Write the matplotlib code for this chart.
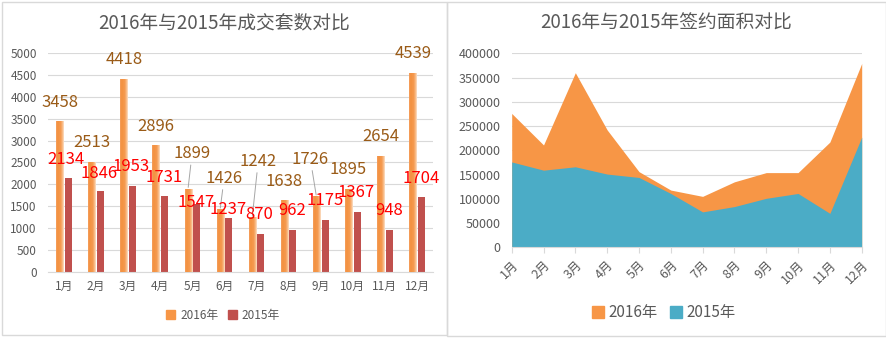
import numpy as np
import matplotlib
matplotlib.use("Agg")
import matplotlib.pyplot as plt
from matplotlib.patches import Rectangle
from matplotlib.colors import LinearSegmentedColormap

plt.rcParams['font.family'] = ['Noto Sans CJK SC', 'DejaVu Sans']

months = ['1月', '2月', '3月', '4月', '5月', '6月', '7月', '8月', '9月', '10月', '11月', '12月']
deals_2016 = [3458, 2513, 4418, 2896, 1899, 1426, 1242, 1638, 1726, 1895, 2654, 4539]
deals_2015 = [2134, 1846, 1953, 1731, 1547, 1237, 870, 962, 1175, 1367, 948, 1704]
area_2016 = [276000, 211000, 360000, 242000, 156000, 118000, 105000, 135000, 154000, 154000, 217000, 379000]
area_2015 = [176000, 159000, 166000, 151000, 144000, 111000, 73000, 84000, 101000, 111000, 70000, 227000]
series_names = ['2016年', '2015年']
left_title = '2016年与2015年成交套数对比'
right_title = '2016年与2015年签约面积对比'

# label offsets (pixels) relative to bar tops
off16 = [(0, 18), (0, 19), (0, 19), (0, 19), (4, 35), (4, 31), (6, 56), (0, 19), (-6, 37), (0, 19), (0, 19), (0, 20)]
off15 = [(-2, 19), (-1, 18), (-1, 20), (0, 19), (-1, 2), (-1, 8), (-2, 19), (-1, 19), (0, 20), (-1, 19), (0, 20), (0, 19)]
leader16 = [False, False, False, False, True, True, True, False, True, False, False, False]

W, H = 887, 338
fig = plt.figure(figsize=(W / 100, H / 100), dpi=100)

def fx(p):
    return p / W

def fy(p):
    return 1 - p / H

# panel borders
for (x0, y0, x1, y1) in [(2, 2, 447, 335), (447, 2, 886, 336)]:
    fig.add_artist(Rectangle((fx(x0), fy(y1)), fx(x1 - x0), (y1 - y0) / H,
                             transform=fig.transFigure, fill=False, ec='#D9D9D9', lw=1))

text_gray = '#595959'
grid_c = '#D9D9D9'
orange = '#F79646'
red = '#C0504D'
teal = '#4BACC6'
lab16 = '#9A5B17'
lab15 = '#FF0000'

# ---------------- Left chart ----------------
axL = fig.add_axes([fx(48), fy(271.7), fx(385), 218.4 / H])
x = np.arange(len(months))
bw = 0.22
off = 0.135
b16 = axL.bar(x - off, deals_2016, bw, color=orange, zorder=2)
b15 = axL.bar(x + off, deals_2015, bw, color=red, zorder=2)

grad = LinearSegmentedColormap.from_list('g', [(0, '#F5A060'), (0.2, '#F3913F'), (0.6, '#F59A50'),
                                               (0.85, '#F9BE8C'), (1.0, '#FCE3CC')])
gimg = np.linspace(0, 1, 64).reshape(1, -1)
for r in b16:
    im = axL.imshow(gimg, cmap=grad, aspect='auto', zorder=3,
                    extent=[r.get_x(), r.get_x() + r.get_width(), 0, r.get_height()])
    im.set_clip_path(r)

axL.set_xlim(-0.5, len(months) - 0.5)
axL.set_ylim(0, 5000)
axL.set_yticks(np.arange(0, 5001, 500))
axL.set_xticks(x)
axL.set_xticklabels(months)
axL.grid(axis='y', color=grid_c, lw=0.8, zorder=0)
axL.set_axisbelow(True)
for s in ['top', 'right', 'left']:
    axL.spines[s].set_visible(False)
axL.spines['bottom'].set_color('#D9D9D9')
axL.tick_params(axis='both', length=0, colors=text_gray, labelsize=8.5)
axL.tick_params(axis='x', pad=6)
axL.tick_params(axis='y', pad=8)

for i, v in enumerate(deals_2016):
    dx, dy = off16[i]
    ap = dict(arrowstyle='-', color='#A6A6A6', lw=0.7, shrinkA=0, shrinkB=1) if leader16[i] else None
    axL.annotate(str(v), xy=(i - off, v), xytext=(dx, dy), textcoords='offset pixels',
                 ha='center', va='center', color=lab16, fontsize=12, arrowprops=ap, zorder=5)
for i, v in enumerate(deals_2015):
    dx, dy = off15[i]
    axL.annotate(str(v), xy=(i + off, v), xytext=(dx, dy), textcoords='offset pixels',
                 ha='center', va='center', color=lab15, fontsize=12, zorder=5)

fig.text(fx(224), fy(23), left_title, ha='center', va='center', fontsize=13.5, color=text_gray)
hL = [Rectangle((0, 0), 1, 1, color=orange), Rectangle((0, 0), 1, 1, color=red)]
fig.legend(hL, series_names, loc='center', bbox_to_anchor=(fx(223), fy(315)), ncol=2, frameon=False,
           fontsize=8.5, labelcolor=text_gray, handlelength=0.8, handleheight=0.8,
           handletextpad=0.4, columnspacing=0.8)

# ---------------- Right chart ----------------
axR = fig.add_axes([fx(511.7), fy(247.3), fx(350), 194 / H])
axR.fill_between(x, area_2016, 0, color=orange, lw=0, zorder=2)
axR.fill_between(x, area_2015, 0, color=teal, lw=0, zorder=3)
axR.set_xlim(0, len(months) - 1)
axR.set_ylim(0, 400000)
axR.set_yticks(np.arange(0, 400001, 50000))
axR.set_xticks(x)
axR.set_xticklabels(months, rotation=45, ha='right', rotation_mode='anchor')
axR.grid(axis='y', color=grid_c, lw=0.8, zorder=0)
axR.set_axisbelow(True)
for s in ['top', 'right', 'left']:
    axR.spines[s].set_visible(False)
axR.spines['bottom'].set_color('#D9D9D9')
axR.spines['bottom'].set_zorder(4)
axR.tick_params(axis='y', length=0, colors=text_gray, labelsize=9, pad=8)
axR.tick_params(axis='x', length=4, color='#D9D9D9', colors=text_gray, labelsize=9, pad=4)
for t in axR.get_xticklabels():
    t.set_color(text_gray)

fig.text(fx(666), fy(23), right_title, ha='center', va='center', fontsize=13.5, color=text_gray)
hR = [Rectangle((0, 0), 1, 1, color=orange), Rectangle((0, 0), 1, 1, color=teal)]
fig.legend(hR, series_names, loc='center', bbox_to_anchor=(fx(664), fy(313)), ncol=2, frameon=False,
           fontsize=11, labelcolor=text_gray, handlelength=0.8, handleheight=0.8,
           handletextpad=0.3, columnspacing=0.8)

fig.savefig('out.png', dpi=100)
